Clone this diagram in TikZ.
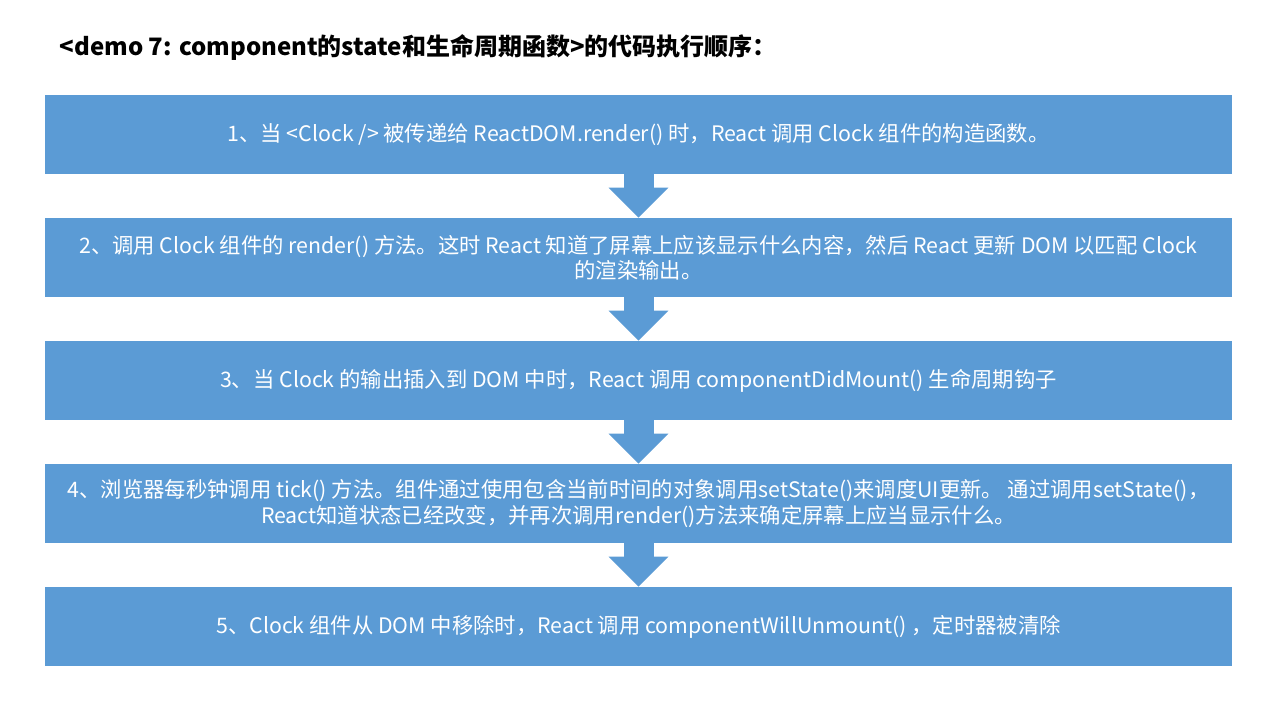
\documentclass[tikz,border=0pt]{standalone}
\usepackage{fontspec}
\setmainfont{Noto Sans CJK SC}
\usepackage{tikz}
\usetikzlibrary{arrows.meta, positioning}
\definecolor{officeblue}{HTML}{5B9BD5}
\tikzstyle{stepbox}=[fill=officeblue,text=white,minimum width=890.25pt,minimum height=59.25pt,inner sep=0pt,align=center,font=\fontsize{16pt}{19pt}\selectfont]
\tikzstyle{downarr}=[-{Triangle[length=22.5pt,width=43.5pt]},line width=22.5pt,color=officeblue]

\begin{document}
\begin{tikzpicture}[x=0.75pt,y=-0.75pt]
  \useasboundingbox (0,0) rectangle (1280,720);
  \node[anchor=west,font=\fontsize{18pt}{22pt}\selectfont\bfseries] (title) at (55,47)
    {<demo 7: component的state和生命周期函数>的代码执行顺序：};
  \node[stepbox] (s1) at (638.5,134.5)
    {1、当 <Clock /> 被传递给 ReactDOM.render() 时，React 调用 Clock 组件的构造函数。};
  \node[stepbox,below=32.6pt of s1] (s2)
    {2、调用 Clock 组件的 render() 方法。这时 React 知道了屏幕上应该显示什么内容，然后 React 更新 DOM 以匹配 Clock\\的渲染输出。};
  \node[stepbox,below=32.6pt of s2] (s3)
    {3、当 Clock 的输出插入到 DOM 中时，React 调用 componentDidMount() 生命周期钩子};
  \node[stepbox,below=32.6pt of s3] (s4)
    {4、浏览器每秒钟调用 tick() 方法。组件通过使用包含当前时间的对象调用setState()来调度UI更新。 通过调用setState()，\\React知道状态已经改变，并再次调用render()方法来确定屏幕上应当显示什么。};
  \node[stepbox,below=32.6pt of s4] (s5)
    {5、Clock 组件从 DOM 中移除时，React 调用 componentWillUnmount() ，定时器被清除};
  % block arrows between the steps
  \draw[downarr] (s1.south) -- (s2.north);
  \draw[downarr] (s2.south) -- (s3.north);
  \draw[downarr] (s3.south) -- (s4.north);
  \draw[downarr] (s4.south) -- (s5.north);
\end{tikzpicture}
\end{document}
